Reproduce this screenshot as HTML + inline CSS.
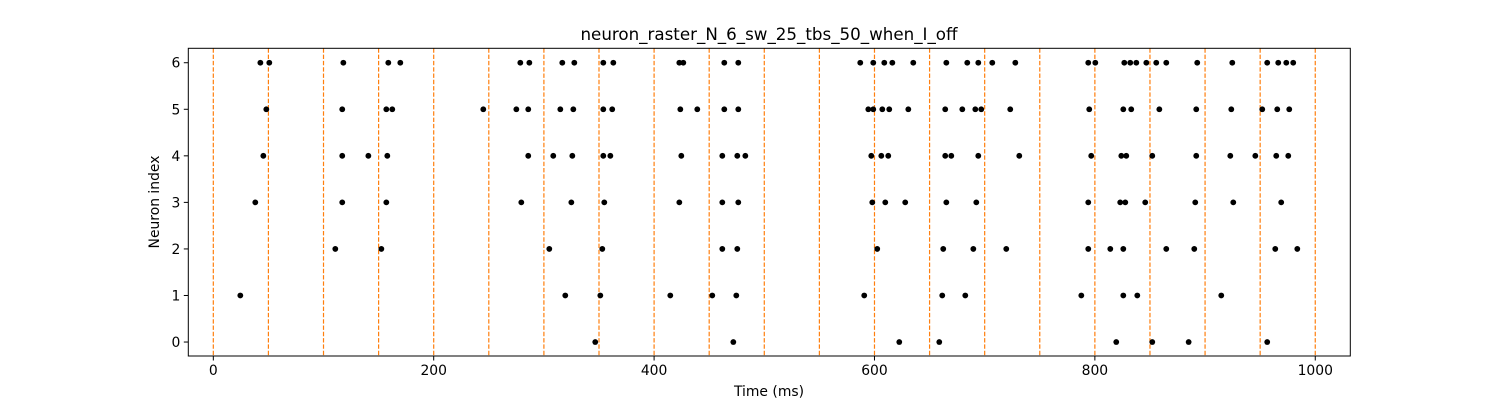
<!DOCTYPE html>
<html><head><meta charset="utf-8"><style>
html,body{margin:0;padding:0;background:#fff;}
svg{display:block;font-family:"DejaVu Sans","Liberation Sans",sans-serif;}
</style></head><body>
<svg id="chart" width="1500" height="400" xmlns="http://www.w3.org/2000/svg">
<rect x="0" y="0" width="1500" height="400" fill="#fff"/>
<text x="769" y="40" font-size="16.7" text-anchor="middle" fill="#000">neuron_raster_N_6_sw_25_tbs_50_when_I_off</text>
<g id="grid"></g>
<g id="dots"></g>
<g id="axes"></g>
<text x="769" y="396" font-size="13.9" text-anchor="middle">Time (ms)</text>
<text transform="translate(159,202) rotate(-90)" font-size="13.9" text-anchor="middle">Neuron index</text>
</svg>
<script>
const xTicks = [0, 200, 400, 600, 800, 1000];
const yTicks = [0, 1, 2, 3, 4, 5, 6];
const boundaries = [0,50,100,150,200,250,300,350,400,450,500,550,600,650,700,750,800,850,900,950,1000];
const spikes0 = [346.6, 471.9, 622.5, 658.8, 819.4, 852.1, 885.1, 956.4];
const spikes1 = [24.5, 319.4, 351.2, 414.7, 452.8, 474.6, 590.7, 661.5, 682.4, 787.7, 825.8, 838.5, 914.7];
const spikes2 = [110.7, 152.5, 304.9, 353, 461.9, 475.5, 602.5, 662.4, 689.7, 719.6, 794, 814, 825.8, 864.8, 890.2, 963.7, 983.7];
const spikes3 = [38.1, 117, 157, 279.5, 324.9, 354.8, 422.9, 461.9, 476.4, 598, 609.8, 627.9, 665.2, 692.4, 794, 823, 827.6, 845.7, 891.1, 925.6, 969.1];
const spikes4 = [45.4, 117, 140.7, 157.9, 285.8, 308.5, 325.8, 353.9, 360.3, 424.7, 461.9, 475.5, 482.8, 597.1, 606.2, 612.5, 664.2, 669.7, 694.2, 731.4, 796.7, 824, 828.5, 852.1, 892, 922.9, 945.6, 964.6, 975.5];
const spikes5 = [48.1, 117, 157, 162.4, 245, 275, 285.8, 314.9, 326.7, 353.9, 362, 423.8, 439.2, 463.7, 476.4, 594.4, 598.9, 607.1, 613.4, 630.7, 664.2, 679.7, 691.5, 696.9, 723.2, 794.9, 825.8, 833, 858.5, 892, 923.8, 951.9, 965.5, 976.4];
const spikes6 = [42.7, 50.8, 118, 158.8, 169.7, 278.6, 286.8, 316.7, 327.6, 353.9, 363, 422.9, 426.5, 463.7, 476.4, 587.1, 598.9, 608.9, 616.2, 635.2, 665.2, 684.2, 694.2, 706.9, 727.8, 794, 800.4, 826.7, 832.1, 837.6, 846.7, 855.7, 864.8, 892.9, 924.7, 956.4, 966.4, 973.7, 980];
const L=188.3,R=1350.3,T=48.3,B=356;
const xMin=-22.7,xMax=1031.8,yMin=-0.3,yMax=6.31;
function xs(v){return L+(v-xMin)/(xMax-xMin)*(R-L);}
function ys(v){return B-(v-yMin)/(yMax-yMin)*(B-T);}
const NS="http://www.w3.org/2000/svg";
function mk(tag,attrs,parent){const e=document.createElementNS(NS,tag);for(const k in attrs)e.setAttribute(k,attrs[k]);parent.appendChild(e);return e;}
const grid=document.getElementById('grid'),dots=document.getElementById('dots'),axes=document.getElementById('axes');
boundaries.forEach(b=>{
  const l=mk('line',{x1:xs(b),x2:xs(b),y1:T,y2:B,stroke:'#ff7f0e','stroke-width':1.2,'stroke-dasharray':'4.4,1.9'},grid);
  
  
});
[spikes0,spikes1,spikes2,spikes3,spikes4,spikes5,spikes6].forEach((arr,i)=>{
  arr.forEach(t=>{
    const c=mk('circle',{cx:xs(t),cy:ys(i),r:2.9,fill:'#000'},dots);
    
    
  });
});
const frame=mk('rect',{x:L,y:T,width:R-L,height:B-T,fill:'none',stroke:'#000','stroke-width':1},axes);


xTicks.forEach(v=>{
  mk('line',{x1:xs(v),x2:xs(v),y1:B,y2:B+4.5,stroke:'#000','stroke-width':1},axes);
  const t=mk('text',{x:xs(v),y:B+19,'font-size':13.9,'text-anchor':'middle'},axes);
  t.textContent=v;
  
  
});
yTicks.forEach(v=>{
  mk('line',{x1:L-4.5,x2:L,y1:ys(v),y2:ys(v),stroke:'#000','stroke-width':1},axes);
  const t=mk('text',{x:L-8,y:ys(v)+5,'font-size':13.9,'text-anchor':'end'},axes);
  t.textContent=v;
  
  
});
</script>
</body></html>
